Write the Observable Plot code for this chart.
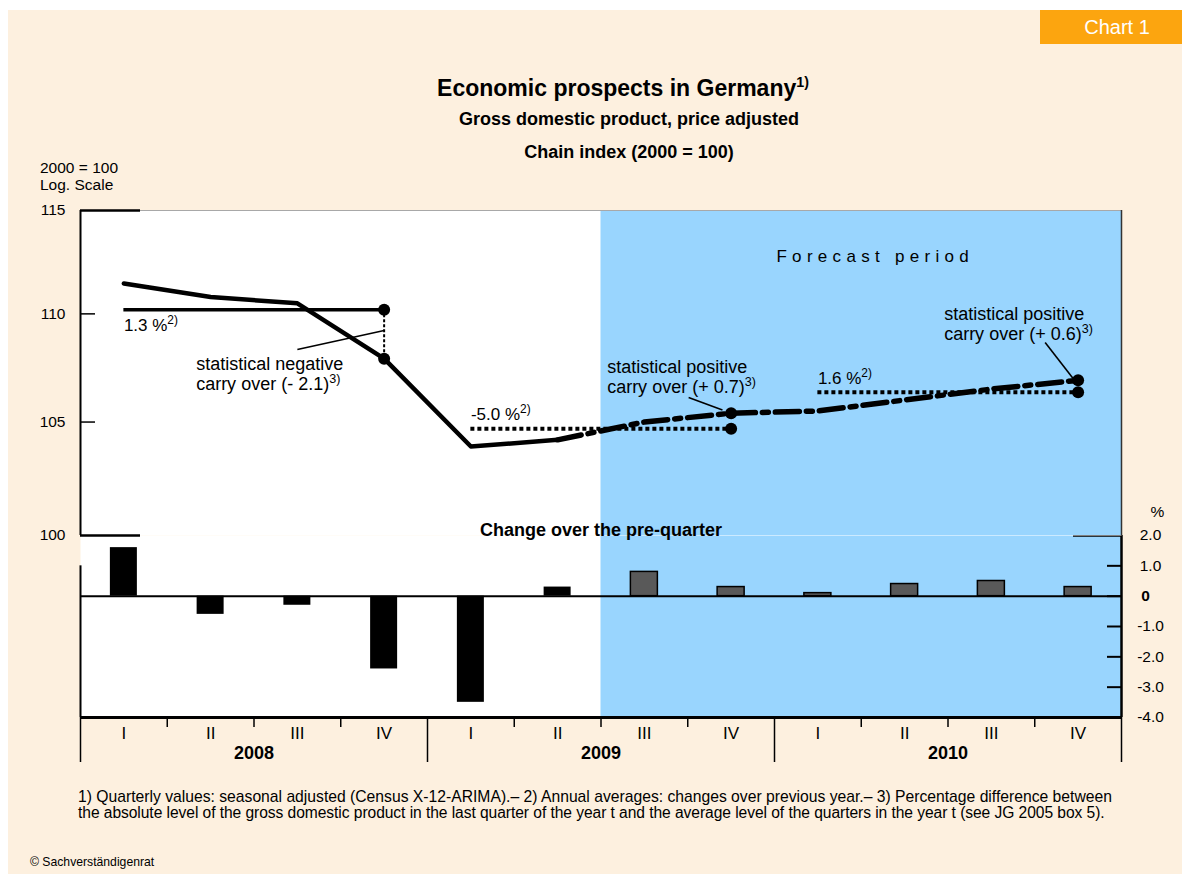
<!DOCTYPE html>
<html>
<head>
<meta charset="utf-8">
<script src="https://cdn.jsdelivr.net/npm/d3@7"></script>
<script src="https://cdn.jsdelivr.net/npm/@observablehq/plot@0.6"></script>
<style>
html, body { margin: 0; padding: 0; background: #ffffff; }
body { width: 1182px; height: 874px; overflow: hidden; position: relative; font-family: "Liberation Sans", Arial, sans-serif; }
#page { position: absolute; left: 8px; top: 10px; width: 1174px; height: 864px; background: #fdf0df; }
#badge { position: absolute; left: 1040px; top: 10px; width: 142px; height: 34px; background: #fca50f; }
#wrap { position: absolute; left: 0; top: 0; width: 1182px; height: 874px; }
#wrap svg { position: absolute; left: 0; top: 0; }
.t { position: absolute; white-space: nowrap; line-height: 1; color: #000; }
.c { text-align: center; }
.sup { font-size: 0.62em; position: relative; top: -0.62em; }
</style>
</head>
<body>
<div id="page"></div>
<div id="badge"></div>
<div class="t c" style="left:1046px;width:142px;top:17px;font-size:20px;color:#fff;">Chart 1</div>
<div id="wrap"></div>

<div class="t c" style="left:223px;width:800px;top:77px;font-size:23px;font-weight:bold;">Economic prospects in Germany<span class="sup">1)</span></div>
<div class="t c" style="left:229px;width:800px;top:110px;font-size:18px;font-weight:bold;">Gross domestic product, price adjusted</div>
<div class="t c" style="left:229px;width:800px;top:143px;font-size:18px;font-weight:bold;">Chain index (2000 = 100)</div>

<div class="t" style="left:40px;top:159.5px;font-size:15.5px;">2000 = 100</div>
<div class="t" style="left:40px;top:176.5px;font-size:15.5px;">Log. Scale</div>

<div class="t" style="left:78px;top:788.5px;font-size:15.7px;">1) Quarterly values: seasonal adjusted (Census X-12-ARIMA).– 2) Annual averages: changes over previous year.– 3) Percentage difference between</div>
<div class="t" style="left:78px;top:804.5px;font-size:15.6px;letter-spacing:-0.06px;">the absolute level of the gross domestic product in the last quarter of the year t and the average level of the quarters in the year t (see JG 2005 box 5).</div>

<div class="t" style="left:30px;top:856px;font-size:12.2px;">© Sachverständigenrat</div>

<script>
// ---------------- data ----------------
const years = ["2008", "2009", "2010"];
const quarterNames = ["I", "II", "III", "IV"];
// GDP chain index (2000 = 100), seasonally adjusted, per quarter 2008 I – 2010 IV
const gdpIndex = [111.45, 110.8, 110.5, 107.9, 103.9, 104.2, 105.0, 105.4, 105.5, 106.0, 106.5, 106.9];
// change over the pre-quarter, %
const qoqChange = [1.6, -0.6, -0.3, -2.4, -3.5, 0.3, 0.8, 0.3, 0.1, 0.4, 0.5, 0.3];
// annual average level of the index
const annualAverage = [110.2, 104.7, 106.35];
const annualChangeLabel = ["1.3 %^[2)]", "-5.0 %^[2)]", "1.6 %^[2)]"];
const carryOverLabel = [
  "statistical negative\ncarry over (- 2.1)^[3)]",
  "statistical positive\ncarry over (+ 0.7)^[3)]",
  "statistical positive\ncarry over (+ 0.6)^[3)]"
];
const firstForecastQuarter = 6;   // 2009 III
const lastActualQuarter = 5;      // 2009 II
const indexTicks = [100, 105, 110, 115];
const changeTicks = [2, 1, 0, -1, -2, -3, -4];
// annotation leader lines (quarter units, index units)
const leaderStart = [[2.5, 108.33], [7.01, 106.11], [11.12, 108.65]];
const leaderEnd = [[3.5, 109.22], [7.4, 105.55], [11.44, 107.0]];

// ---------------- derived tables ----------------
const quarterRows = gdpIndex.map((v, i) => ({
  i, xc: i + 0.5, q: quarterNames[i % 4], year: years[Math.floor(i / 4)],
  gdp: v, chg: qoqChange[i], forecast: i >= firstForecastQuarter
}));
const yearRows = years.map((y, k) => ({
  k, year: y, avg: annualAverage[k], label: annualChangeLabel[k],
  carry: carryOverLabel[k], q4: gdpIndex[k * 4 + 3],
  xStart: k * 4 + 0.5, xEnd: k * 4 + 3.5, xMid: k * 4 + 2
}));
const carryDots = yearRows.flatMap(d => [{x: d.xEnd, y: d.avg}, {x: d.xEnd, y: d.q4}]);
const leaders = leaderStart.map((s, j) => ({x1: s[0], y1: s[1], x2: leaderEnd[j][0], y2: leaderEnd[j][1]}));

// ---------------- layout ----------------
const W = 1182, H = 874;
const ML = 80, MR = 61;
const qpx = (W - ML - MR) / 12;
const BLUE = "#99d5fe";
const FONT = "'Liberation Sans', Arial, sans-serif";
const lowerTop = 535, lowerBottom = 717;
const unit = (lowerBottom - lowerTop) / 6;
const style = {background: "transparent", fontFamily: FONT, fontSize: "15.5px", color: "black", overflow: "visible"};

const upper = Plot.plot({
  width: W, height: H, marginLeft: ML, marginRight: MR, marginTop: 210, marginBottom: H - lowerTop,
  style,
  x: {type: "linear", domain: [0, 12], axis: null},
  y: {type: "log", domain: [100, 115], axis: null},
  marks: [
    Plot.frame({fill: "white", stroke: "none"}),
    Plot.rect([firstForecastQuarter], {x1: d => d, x2: () => 12, fill: BLUE}),
    Plot.ruleY([115], {stroke: "#a8a8a8", strokeWidth: 1.2}),
    Plot.ruleY([115, 100], {x1: () => 0, x2: () => 60 / qpx, stroke: "black", strokeWidth: 2.5}),
    Plot.ruleY([105, 110], {x1: () => 0, x2: () => 15 / qpx, stroke: "black", strokeWidth: 1.5}),
    Plot.ruleX([0], {stroke: "black", strokeWidth: 2}),
    Plot.ruleX([12], {stroke: "#333", strokeWidth: 1.5}),
    Plot.text(indexTicks, {x: () => 0, y: d => d, dx: -15, textAnchor: "end", fontSize: 15.5, text: d => String(d)}),

    // annual averages
    Plot.ruleY(yearRows.filter(d => d.k === 0), {y: "avg", x1: "xStart", x2: "xEnd", stroke: "black", strokeWidth: 3.5}),
    Plot.ruleY(yearRows.filter(d => d.k > 0), {y: "avg", x1: "xStart", x2: "xEnd", stroke: "black", strokeWidth: 4, strokeDasharray: "4,3"}),
    Plot.ruleX(yearRows.filter(d => d.k === 0), {x: "xEnd", y1: "avg", y2: "q4", stroke: "black", strokeWidth: 2, strokeDasharray: "3,2"}),

    // GDP line
    Plot.line(quarterRows.filter(d => d.i <= lastActualQuarter), {x: "xc", y: "gdp", stroke: "black", strokeWidth: 4.5, strokeLinejoin: "round"}),
    Plot.line(quarterRows.filter(d => d.i >= lastActualQuarter), {x: "xc", y: "gdp", stroke: "black", strokeWidth: 5.5, strokeDasharray: "24,7,6,7"}),

    Plot.dot(carryDots, {x: "x", y: "y", r: 6, fill: "black", stroke: "none"}),
    Plot.link(leaders, {x1: "x1", y1: "y1", x2: "x2", y2: "y2", stroke: "black", strokeWidth: 1.6}),

    // labels
    Plot.text(yearRows.filter(d => d.k === 0), {x: "xStart", y: "avg", text: "label", textAnchor: "start", dy: 16, fontSize: 17}),
    Plot.text(yearRows.filter(d => d.k > 0), {x: "xStart", y: "avg", text: "label", textAnchor: "start", dy: -14, fontSize: 17}),
    Plot.text(yearRows.filter(d => d.k === 0), {x: "xEnd", y: "q4", text: "carry", textAnchor: "start", dx: -188, dy: 15, fontSize: 18, lineHeight: 1.12}),
    Plot.text(yearRows.filter(d => d.k === 1), {x: "xEnd", y: "q4", text: "carry", textAnchor: "start", dx: -124, dy: -37, fontSize: 18, lineHeight: 1.12}),
    Plot.text(yearRows.filter(d => d.k === 2), {x: "xEnd", y: "q4", text: "carry", textAnchor: "start", dx: -134, dy: -57, fontSize: 18, lineHeight: 1.12}),
    Plot.text(["Forecast period"], {x: () => 9, y: () => 115, dx: 14, dy: 46, fontSize: 17}),
    Plot.text(["Change over the pre-quarter"], {x: () => firstForecastQuarter, y: () => 100, dy: -5, fontSize: 18, fontWeight: "bold"})
  ]
});

const barHalf = 13.5 / qpx;
const lower = Plot.plot({
  width: W, height: H, marginLeft: ML, marginRight: MR, marginTop: lowerTop, marginBottom: H - lowerBottom,
  style,
  x: {type: "linear", domain: [0, 12], axis: null},
  y: {type: "linear", domain: [-4, 2], axis: null},
  marks: [
    Plot.frame({fill: "white", stroke: "none"}),
    Plot.rect([firstForecastQuarter], {x1: d => d, x2: () => 12, fill: BLUE}),
    Plot.rect(quarterRows.filter(d => !d.forecast), {x1: d => d.xc - barHalf, x2: d => d.xc + barHalf, y1: () => 0, y2: "chg", fill: "black"}),
    Plot.rect(quarterRows.filter(d => d.forecast), {x1: d => d.xc - barHalf, x2: d => d.xc + barHalf, y1: () => 0, y2: "chg", fill: "#595959", stroke: "black", strokeWidth: 1.5}),
    Plot.ruleY([0], {stroke: "black", strokeWidth: 2}),
    Plot.ruleY([-4], {stroke: "black", strokeWidth: 3}),
    Plot.ruleX([0], {y1: () => -4, y2: () => 1, stroke: "black", strokeWidth: 2}),
    Plot.ruleX([12], {y1: () => -4, y2: () => 2, stroke: "black", strokeWidth: 2.5}),
    Plot.ruleY(changeTicks.filter(d => d !== 2 && d !== -4), {x1: () => 12 - 14 / qpx, x2: () => 12, stroke: "black", strokeWidth: 2}),
    Plot.ruleY([2], {x1: () => 12 - 48 / qpx, x2: () => 12, stroke: "black", strokeWidth: 2.5}),
    Plot.text(changeTicks.filter(d => d !== 0), {x: () => 12, y: d => d, dx: 29, text: d => d.toFixed(1), fontSize: 15.5}),
    Plot.text([0], {x: () => 12, y: d => d, dx: 24, text: () => "0", fontSize: 15.5, fontWeight: "bold"}),
    Plot.text(["%"], {x: () => 12, y: () => 2, dx: 36, dy: -23, fontSize: 15.5}),

    // quarter / year axis
    Plot.ruleX(d3.range(1, 12).filter(i => i % 4 !== 0), {y1: () => -4, y2: () => -4 - 10 / unit, stroke: "black", strokeWidth: 1.5}),
    Plot.ruleX([0, 4, 8, 12], {y1: () => -4, y2: () => -4 - 45 / unit, stroke: "black", strokeWidth: 1.5}),
    Plot.text(quarterRows, {x: "xc", y: () => -4, dy: 16, text: "q", fontSize: 17}),
    Plot.text(yearRows, {x: "xMid", y: () => -4, dy: 36, text: "year", fontSize: 18, fontWeight: "bold"})
  ]
});

// superscripts written as ^[...] become raised tspans
function supify(svg) {
  const NS = "http://www.w3.org/2000/svg";
  svg.querySelectorAll("text").forEach(t => {
    const spans = t.querySelectorAll("tspan");
    const leaves = spans.length ? [...spans] : [t];
    leaves.forEach(el => {
      const s = el.textContent;
      if (!s.includes("^[")) return;
      const parts = s.split(/\^\[(.*?)\]/);
      el.textContent = "";
      parts.forEach((p, j) => {
        if (!p) return;
        const ts = document.createElementNS(NS, "tspan");
        ts.textContent = p;
        if (j % 2 === 1) {
          ts.setAttribute("baseline-shift", "super");
          ts.setAttribute("font-size", "70%");
        }
        el.appendChild(ts);
      });
    });
  });
  svg.querySelectorAll("text").forEach(t => {
    if (t.textContent === "Forecast period") t.setAttribute("letter-spacing", "5.3");
  });
}
supify(upper);
supify(lower);

const wrap = document.getElementById("wrap");
wrap.appendChild(lower);
wrap.appendChild(upper);
</script>
</body>
</html>
